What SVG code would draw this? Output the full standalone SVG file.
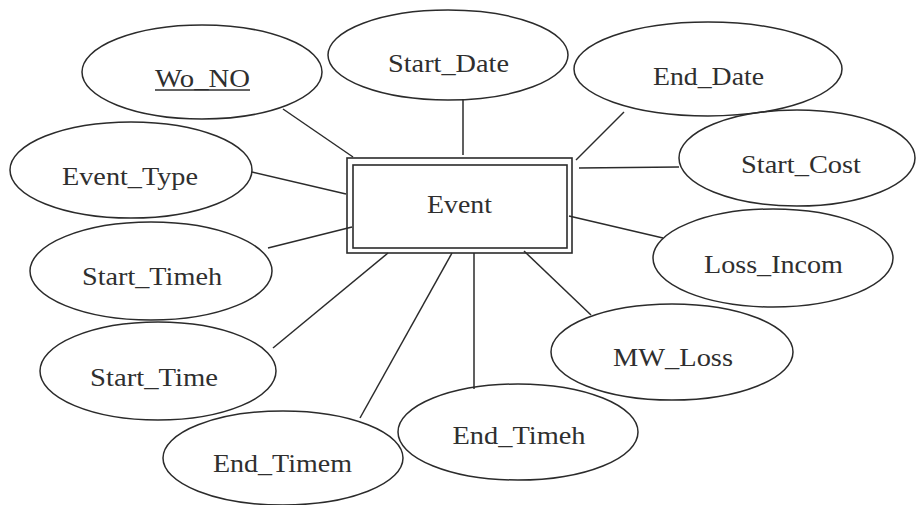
<svg xmlns="http://www.w3.org/2000/svg" width="916" height="505" viewBox="0 0 916 505">
  <style>
    .attr { fill: none; stroke: #2b2b2b; stroke-width: 1.5; }
    .box { fill: none; stroke: #2b2b2b; stroke-width: 1.6; }
    .lbl { font-family: "Liberation Serif", "Times New Roman", serif; font-size: 26px; fill: #2f2f2f; text-anchor: middle; }
    .conn line { stroke: #2b2b2b; stroke-width: 1.5; }
  </style>
  <rect width="916" height="505" fill="#ffffff"/>

  <!-- connectors from the entity to each attribute -->
  <g id="connectors" class="conn">
    <line x1="283" y1="109" x2="353" y2="157"/>
    <line x1="252" y1="172" x2="346" y2="194"/>
    <line x1="268" y1="248" x2="352" y2="227"/>
    <line x1="273" y1="348" x2="388" y2="253"/>
    <line x1="360" y1="418" x2="452" y2="253"/>
    <line x1="474" y1="253" x2="474" y2="389"/>
    <line x1="524" y1="251" x2="591" y2="315"/>
    <line x1="569" y1="216" x2="663" y2="238"/>
    <line x1="579" y1="168" x2="679" y2="167"/>
    <line x1="576" y1="160" x2="624" y2="112"/>
    <line x1="463" y1="100" x2="463" y2="155"/>
  </g>

  <!-- weak entity -->
  <g id="event">
    <rect class="box" x="347" y="158" width="225" height="95"/>
    <rect class="box" x="353" y="165" width="214" height="83"/>
    <text class="lbl" x="459.5" y="213" textLength="65" lengthAdjust="spacingAndGlyphs">Event</text>
  </g>

  <!-- attributes -->
  <g id="wo_no">
    <ellipse class="attr" cx="202" cy="72" rx="120" ry="47"/>
    <text class="lbl" x="202.5" y="87" textLength="95" lengthAdjust="spacingAndGlyphs">Wo_NO</text>
    <line x1="155" y1="90" x2="250" y2="90" stroke="#2f2f2f" stroke-width="1.3"/>
  </g>
  <g id="start_date">
    <ellipse class="attr" cx="448" cy="55" rx="120" ry="45"/>
    <text class="lbl" x="448.5" y="72" textLength="121" lengthAdjust="spacingAndGlyphs">Start_Date</text>
  </g>
  <g id="end_date">
    <ellipse class="attr" cx="708" cy="69" rx="134" ry="47"/>
    <text class="lbl" x="708.5" y="85" textLength="111" lengthAdjust="spacingAndGlyphs">End_Date</text>
  </g>
  <g id="start_cost">
    <ellipse class="attr" cx="797" cy="158" rx="118" ry="48"/>
    <text class="lbl" x="801" y="173" textLength="120" lengthAdjust="spacingAndGlyphs">Start_Cost</text>
  </g>
  <g id="loss_incom">
    <ellipse class="attr" cx="773" cy="258" rx="120" ry="49"/>
    <text class="lbl" x="773.5" y="273" textLength="139" lengthAdjust="spacingAndGlyphs">Loss_Incom</text>
  </g>
  <g id="mw_loss">
    <ellipse class="attr" cx="672" cy="352" rx="121" ry="48"/>
    <text class="lbl" x="673" y="366" textLength="120" lengthAdjust="spacingAndGlyphs">MW_Loss</text>
  </g>
  <g id="end_timeh">
    <ellipse class="attr" cx="518" cy="432" rx="120" ry="48"/>
    <text class="lbl" x="519" y="444" textLength="133" lengthAdjust="spacingAndGlyphs">End_Timeh</text>
  </g>
  <g id="end_timem">
    <ellipse class="attr" cx="283" cy="458" rx="120" ry="47"/>
    <text class="lbl" x="282.5" y="472" textLength="139" lengthAdjust="spacingAndGlyphs">End_Timem</text>
  </g>
  <g id="start_time">
    <ellipse class="attr" cx="158" cy="371" rx="118" ry="49"/>
    <text class="lbl" x="154" y="386" textLength="128" lengthAdjust="spacingAndGlyphs">Start_Time</text>
  </g>
  <g id="start_timeh">
    <ellipse class="attr" cx="151" cy="271" rx="121" ry="49"/>
    <text class="lbl" x="152" y="285" textLength="140" lengthAdjust="spacingAndGlyphs">Start_Timeh</text>
  </g>
  <g id="event_type">
    <ellipse class="attr" cx="131" cy="170" rx="121" ry="48"/>
    <text class="lbl" x="130" y="185" textLength="136" lengthAdjust="spacingAndGlyphs">Event_Type</text>
  </g>
</svg>
